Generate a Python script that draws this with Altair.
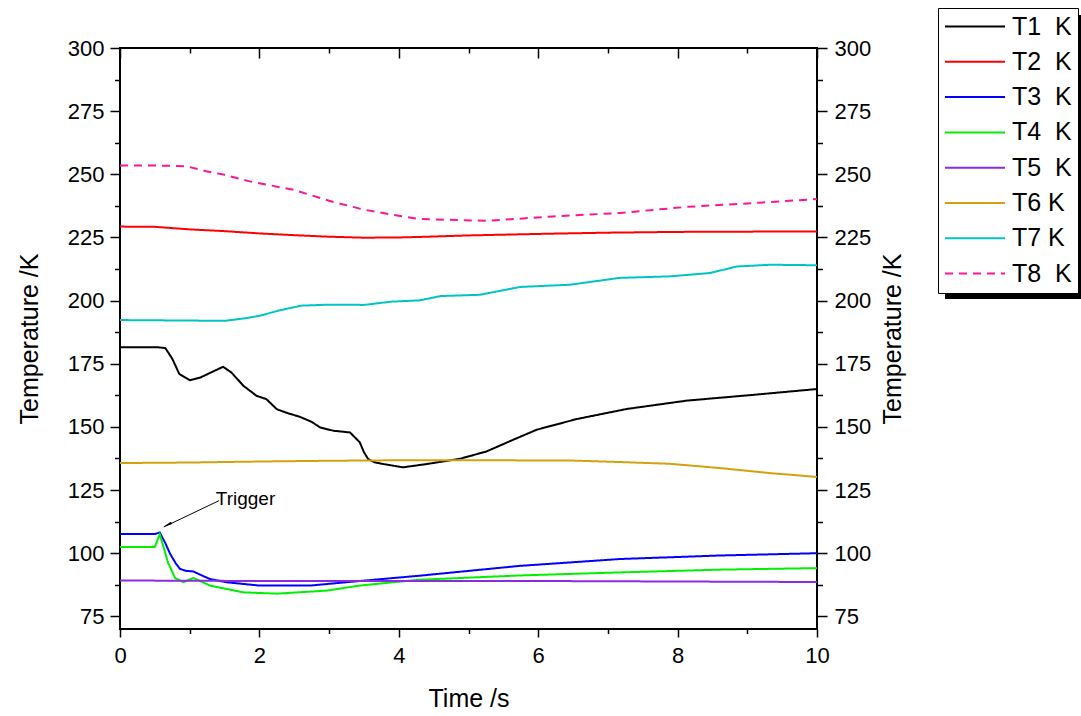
import altair as alt
import pandas as pd

NB = "\u00a0"
series_names = ["T1" + NB * 2 + "K", "T2" + NB * 2 + "K", "T3" + NB * 2 + "K", "T4" + NB * 2 + "K",
                "T5" + NB * 2 + "K", "T6" + NB + "K", "T7" + NB + "K", "T8" + NB * 2 + "K"]
series_colors = ["#000000", "#ff0000", "#0000ff", "#00f000", "#8a2be2", "#d4a010", "#00c4c4", "#ff1493"]

t1_time = [0, 0.55, 0.65, 0.75, 0.85, 1.0, 1.15, 1.3, 1.48, 1.6, 1.77, 1.96, 2.1, 2.25, 2.4, 2.58, 2.75,
           2.87, 3.06, 3.3, 3.44, 3.5, 3.56, 3.65, 3.78, 4.06, 4.4, 4.88, 5.26, 5.64, 5.98, 6.55, 7.27,
           8.13, 9.09, 10]
t1_vals = [181.5, 181.5, 181.2, 177, 171, 168.5, 169.5, 171.5, 173.8, 171.5, 166.3, 162.3, 161, 157,
           155.5, 154, 152, 149.8, 148.5, 147.8, 143.9, 140, 137.3, 136, 135.3, 134, 135.3, 137.4, 140.3,
           144.9, 148.9, 153.1, 157.1, 160.4, 162.7, 165]

t2_time = [0, 0.5, 1, 1.5, 2, 2.5, 3, 3.5, 4, 4.3, 5, 6, 7, 8, 9, 10]
t2_vals = [229.3, 229.2, 228.2, 227.5, 226.6, 225.9, 225.3, 224.9, 225, 225.2, 225.8, 226.4, 226.9,
           227.2, 227.3, 227.4]

t3_time = [0, 0.5, 0.57, 0.65, 0.72, 0.8, 0.86, 0.95, 1.05, 1.15, 1.29, 1.53, 2.0, 2.73, 3.44, 4.3,
           5.0, 5.74, 7.17, 8.61, 10]
t3_vals = [107.6, 107.6, 108.2, 104, 99.7, 96, 93.8, 93, 92.8, 91.5, 89.8, 88.5, 87.2, 87.2, 89, 91.1,
           93, 95, 97.7, 99.1, 100]

t4_time = [0, 0.5, 0.57, 0.63, 0.69, 0.79, 0.91, 1.05, 1.15, 1.29, 1.77, 2.25, 2.97, 3.44, 3.92, 4.3,
           5.74, 7.17, 8.61, 10]
t4_vals = [102.5, 102.5, 107.5, 102, 96.2, 90.2, 88.5, 90.2, 89, 87.2, 84.5, 84, 85.2, 87.2, 88.5,
           89.5, 91.2, 92.4, 93.5, 94.1]

t5_time = [0, 2, 4, 6, 8, 10]
t5_vals = [89.2, 89.0, 89.0, 89.0, 88.8, 88.6]

t6_time = [0, 1, 2, 3, 4, 5, 6.46, 7.17, 7.89, 8.61, 9.33, 10]
t6_vals = [135.7, 135.9, 136.3, 136.6, 136.8, 136.8, 136.7, 136.1, 135.4, 133.7, 131.7, 130.2]

t7_time = [0, 1.5, 1.8, 2.0, 2.3, 2.6, 3.0, 3.5, 3.9, 4.3, 4.6, 5.16, 5.74, 6.46, 7.17, 7.89, 8.46,
           8.85, 9.33, 10]
t7_vals = [192.3, 192, 193, 194, 196.2, 198, 198.4, 198.3, 199.6, 200.1, 201.8, 202.3, 205.4, 206.3,
           209, 209.6, 210.9, 213.5, 214.2, 214]

t8_time = [0, 0.5, 0.95, 1.24, 1.5, 1.86, 2.5, 3, 3.5, 4, 4.3, 5.26, 6.21, 7.17, 8.13, 9.08, 10]
t8_vals = [253.5, 253.5, 253.2, 251.2, 249.8, 247.2, 243.8, 239.5, 236, 233.6, 232.3, 231.6, 233.3,
           234.7, 237.1, 238.6, 240.2]

x_major = [0, 2, 4, 6, 8, 10]
x_minor = [1, 3, 5, 7, 9]
y_major = [75, 100, 125, 150, 175, 200, 225, 250, 275, 300]
y_minor = [87.5, 112.5, 137.5, 162.5, 187.5, 212.5, 237.5, 262.5, 287.5]

note_text = ["Trigger"]
note_pos = [1.80, 121.3]
arrow_from = [1.42, 120.8]
arrow_to = [0.63, 110.4]
arrow_head = [0.70, 111.5]

FONT = "Liberation Sans"

times = [t1_time, t2_time, t3_time, t4_time, t5_time, t6_time, t7_time, t8_time]
values = [t1_vals, t2_vals, t3_vals, t4_vals, t5_vals, t6_vals, t7_vals, t8_vals]
rows = []
for name, ts, vs in zip(series_names, times, values):
    for t, v in zip(ts, vs):
        rows.append({"t": t, "T": v, "series": name})
df = pd.DataFrame(rows)

xs = alt.Scale(domain=[0, 10], nice=False, zero=False)
ys = alt.Scale(domain=[70, 300], nice=False, zero=False)


def axis(orient, vals, size, **kw):
    opts = dict(orient=orient, values=vals, tickSize=size, tickWidth=1.5, tickColor="black",
                domain=False, grid=False, labels=False, title="", labelFlush=False)
    opts.update(kw)
    return alt.Axis(**opts)


label_kw = dict(labels=True, labelFont=FONT, labelFontSize=22, labelColor="black")
title_kw = dict(titleFont=FONT, titleFontSize=25, titleFontWeight="normal", titleColor="black")

legend = alt.Legend(title=None, orient="none", legendX=818, legendY=-40, symbolType="stroke",
                    symbolSize=3600, symbolStrokeWidth=2, clipHeight=25, labelFont=FONT,
                    labelFontSize=25, labelColor="black", padding=6, rowPadding=9.3, labelOffset=6,
                    strokeColor="black", fillColor="white", labelLimit=200)

lines = alt.Chart(df).mark_line(strokeWidth=2).encode(
    x=alt.X("t:Q", scale=xs, axis=axis("bottom", x_major, 8, labelPadding=8,
                                          titlePadding=20, **label_kw, **{**title_kw, "title": "Time /s"})),
    y=alt.Y("T:Q", scale=ys, axis=axis("left", y_major, 10, labelPadding=6, titlePadding=25,
                                          **label_kw, **{**title_kw, "title": "Temperature /K"})),
    color=alt.Color("series:N", scale=alt.Scale(domain=series_names, range=series_colors), legend=legend),
    strokeDash=alt.StrokeDash("series:N", scale=alt.Scale(domain=series_names,
                                                          range=[[1, 0]] * 7 + [[8, 6]]), legend=legend),
)

ghost_df = pd.DataFrame({"t": [0, 10], "T": [70, 300]})
ghost = alt.Chart(ghost_df).mark_point(opacity=0)

g1 = ghost.encode(
    x=alt.X("t:Q", scale=xs, axis=axis("bottom", x_minor, 4.5)),
    y=alt.Y("T:Q", scale=ys, axis=axis("left", y_minor, 5.5)),
)
g2 = ghost.encode(
    x=alt.X("t:Q", scale=xs, axis=axis("top", x_major, 10, offset=-10)),
    y=alt.Y("T:Q", scale=ys, axis=axis("right", y_major, 10, labelPadding=7, titlePadding=10,
                                          titleAngle=270, titleBaseline="top", **label_kw,
                                          **{**title_kw, "title": "Temperature /K"})),
)
g3 = ghost.encode(
    x=alt.X("t:Q", scale=xs, axis=axis("top", x_minor, 5, offset=-5)),
    y=alt.Y("T:Q", scale=ys, axis=axis("right", y_minor, 5.5)),
)

note_df = pd.DataFrame({"t": [note_pos[0]], "T": [note_pos[1]], "label": note_text,
                        "t0": [arrow_from[0]], "T0": [arrow_from[1]],
                        "t1": [arrow_to[0]], "T1": [arrow_to[1]],
                        "th": [arrow_head[0]], "Th": [arrow_head[1]]})
note = alt.Chart(note_df).mark_text(font=FONT, fontSize=19, color="black", align="center",
                                    baseline="middle").encode(
    x=alt.X("t:Q", scale=xs, axis=None), y=alt.Y("T:Q", scale=ys, axis=None), text="label:N")
arrow = alt.Chart(note_df).mark_rule(color="black", strokeWidth=1).encode(
    x=alt.X("t0:Q", scale=xs, axis=None), y=alt.Y("T0:Q", scale=ys, axis=None),
    x2="t1:Q", y2="T1:Q")
head = alt.Chart(note_df).mark_point(shape="wedge", filled=True, color="black", size=110,
                                     opacity=1, angle=243.6).encode(
    x=alt.X("th:Q", scale=xs, axis=None), y=alt.Y("Th:Q", scale=ys, axis=None))

shadow = alt.Chart(note_df).mark_rect(color="black", opacity=1).encode(
    x=alt.value(825), x2=alt.value(970), y=alt.value(-33), y2=alt.value(251))

chart = alt.layer(shadow, g1, g2, g3, lines, arrow, head, note).resolve_axis(
    x="independent", y="independent"
).properties(
    width=697, height=581,
    autosize=alt.AutoSizeParams(type="none"),
    padding={"left": 120, "top": 48, "right": 264, "bottom": 87},
    background="white",
).configure_view(stroke="black", strokeWidth=2)

chart.save("out.html", embed_options={"renderer": "svg", "actions": False})
